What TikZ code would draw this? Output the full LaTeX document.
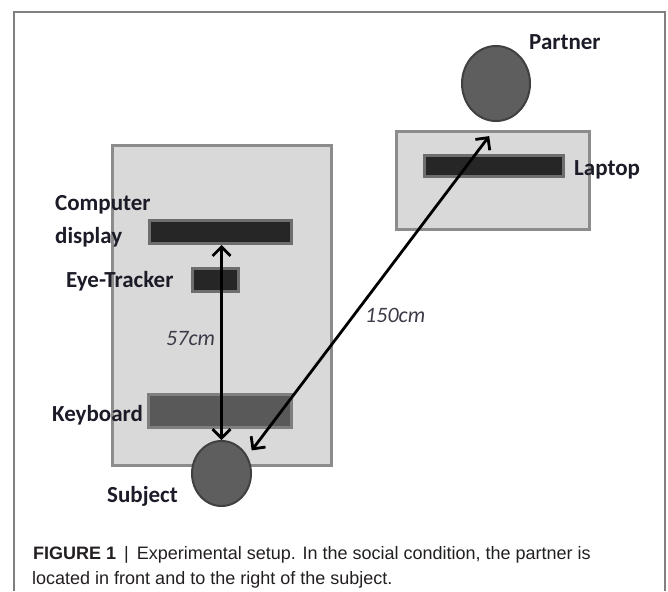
\documentclass[tikz,border=0pt]{standalone}
\usepackage{fontspec}
\setmainfont{Carlito}
\newfontfamily\capfont{Liberation Sans}
\usetikzlibrary{shapes.geometric,arrows.meta}

\definecolor{boxfill}{HTML}{D9D9D9}
\definecolor{boxline}{HTML}{8C8C8C}
\definecolor{barfill}{HTML}{262626}
\definecolor{barline}{HTML}{6E6E6E}
\definecolor{keyfill}{HTML}{595959}
\definecolor{keyline}{HTML}{7F7F7F}
\definecolor{headfill}{HTML}{5E5E5E}
\definecolor{headline}{HTML}{404040}
\definecolor{labeltext}{HTML}{1C1C28}
\definecolor{disttext}{HTML}{3C3C48}
\definecolor{captext}{HTML}{231F20}
\definecolor{framegray}{HTML}{808080}

\tikzset{
  desk/.style={rectangle, draw=boxline, fill=boxfill, line width=3pt, inner sep=0pt},
  bar/.style={rectangle, draw=barline, fill=barfill, line width=3pt, inner sep=0pt},
  keypad/.style={rectangle, draw=keyline, fill=keyfill, line width=3pt, inner sep=0pt},
  person/.style={ellipse, draw=headline, fill=headfill, line width=2pt, inner sep=0pt},
  lbl/.style={anchor=base west, inner sep=0pt, text=labeltext, font=\fontsize{23}{27}\selectfont\bfseries},
  dist/.style={anchor=base west, inner sep=0pt, text=disttext, font=\fontsize{22}{26}\selectfont\itshape},
  captxt/.style={anchor=base west, inner sep=0pt, text=captext, font=\capfont\fontsize{18}{25}\selectfont},
  arr/.style={{Straight Barb[length=9pt,width=18pt]}-{Straight Barb[length=9pt,width=18pt]}, line width=2.8pt, black},
}

\begin{document}
\begin{tikzpicture}[x=1pt, y=-1pt]
    \useasboundingbox (0,0) rectangle (668,591);
    \draw[framegray, line width=1.5pt] (14,591) -- (14,12) -- (665,12) -- (665,591);

    % tables
    \draw
    (222,305.5) node[desk, minimum width=219pt, minimum height=320pt](LT){}
    (493,180.5) node[desk, minimum width=193pt, minimum height=98pt](RT){};

    % devices
    \draw
    (220.5,232) node[bar, minimum width=142pt, minimum height=23pt](D){}
    (215.5,280) node[bar, minimum width=46pt, minimum height=23pt](E){}
    (220,411) node[keypad, minimum width=143pt, minimum height=33pt](K){}
    (494,166) node[bar, minimum width=139pt, minimum height=21pt](L){};

    % people
    \draw
    (221.5,473.5) node[person, minimum width=59pt, minimum height=65pt](S){}
    (496,83.5) node[person, minimum width=68pt, minimum height=75pt](P){};

    % labels
    \draw
    (55,210) node[lbl](Dl1){Computer}
    (55,243) node[lbl](Dl2){display}
    (66,287) node[lbl](El){Eye-Tracker}
    (52,421) node[lbl](Kl){Keyboard}
    (107,502) node[lbl](Sl){Subject}
    (529,50) node[lbl](Pl){Partner}
    (574,175) node[lbl](Ll){Laptop}
    (166,345) node[dist](d57){57cm}
    (365,322) node[dist](d150){150cm};

    \draw[arr] (S.north) -- (S.north |- D.south);
    \draw[arr, shorten <=7pt, shorten >=18pt] (S.34) -- (P.276);

    % caption
    \draw
    (33,559) node[captxt](C1){\textbf{FIGURE 1} \,|\, Experimental setup. In the social condition, the partner is}
    (32,584) node[captxt](C2){located in front and to the right of the subject.};

\end{tikzpicture}
\end{document}
